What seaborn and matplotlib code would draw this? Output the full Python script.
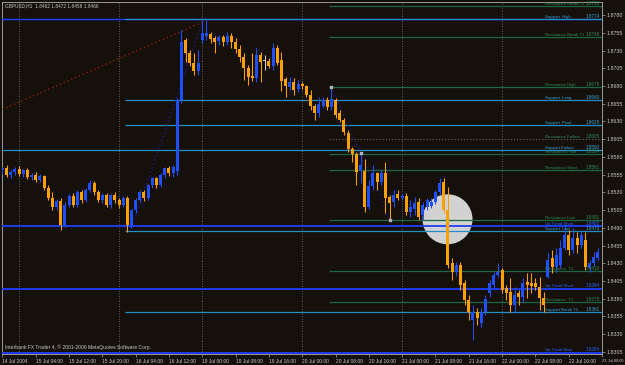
import matplotlib
matplotlib.use("Agg")
import matplotlib.pyplot as plt
import seaborn as sns
import pandas as pd
import numpy as np

# ---------------- data ----------------
tick_bars = [0, 8, 16, 24, 32, 40, 48, 56, 64, 72, 80, 88, 96, 104, 112, 120, 128, 136, 144]
tick_labels = ["14 Jul 2004", "15 Jul 04:00", "15 Jul 12:00", "15 Jul 20:00", "16 Jul 04:00",
               "16 Jul 12:00", "19 Jul 00:00", "19 Jul 08:00", "19 Jul 16:00", "20 Jul 00:00",
               "20 Jul 08:00", "20 Jul 16:00", "21 Jul 00:00", "21 Jul 08:00", "21 Jul 16:00",
               "22 Jul 00:00", "22 Jul 08:00", "22 Jul 16:00", "23 Jul 00:00"]
day_bars = [4, 28, 48, 72, 96, 120]
price_ticks = [1.8780, 1.8755, 1.8730, 1.8705, 1.8680, 1.8655, 1.8630, 1.8605, 1.8580, 1.8555,
               1.8530, 1.8505, 1.8480, 1.8455, 1.8430, 1.8405, 1.8380, 1.8355, 1.8330, 1.8305]

opens = [1.8561, 1.8564, 1.8554, 1.8559, 1.8563, 1.8556, 1.8561, 1.8552, 1.8555, 1.8547,
         1.8553, 1.8536, 1.8522, 1.8509, 1.8518, 1.8484, 1.8512, 1.8525, 1.8512, 1.8530,
         1.8519, 1.8533, 1.8543, 1.8530, 1.8519, 1.8526, 1.8512, 1.8526, 1.8519, 1.8512,
         1.8522, 1.8484, 1.8505, 1.8519, 1.8530, 1.8522, 1.8540, 1.8550, 1.8540, 1.8554,
         1.8564, 1.8557, 1.8560, 1.8660, 1.8745, 1.8726, 1.8712, 1.8701, 1.8745, 1.8750,
         1.8753, 1.8748, 1.8743, 1.8749, 1.8742, 1.8750, 1.8742, 1.8732, 1.8721, 1.8705,
         1.8694, 1.8691, 1.8724, 1.8715, 1.8715, 1.8708, 1.8733, 1.8717, 1.8690, 1.8678,
         1.8686, 1.8676, 1.8683, 1.8680, 1.8667, 1.8652, 1.8642, 1.8652, 1.8660, 1.8650,
         1.8660, 1.8642, 1.8632, 1.8614, 1.8591, 1.8584, 1.8561, 1.8560, 1.8509, 1.8539,
         1.8557, 1.8545, 1.8557, 1.8523, 1.8516, 1.8528, 1.8522, 1.8525, 1.8502, 1.8507,
         1.8516, 1.8498, 1.8509, 1.8511, 1.8516, 1.8530, 1.8545, 1.8505, 1.8430, 1.8418,
         1.8428, 1.8402, 1.8378, 1.8350, 1.8361, 1.8346, 1.8361, 1.8388, 1.8399, 1.8413,
         1.8420, 1.8395, 1.8389, 1.8371, 1.8388, 1.8382, 1.8404, 1.8402, 1.8402, 1.8397,
         1.8381, 1.8411, 1.8437, 1.8425, 1.8428, 1.8452, 1.8470, 1.8449, 1.8466, 1.8456,
         1.8463, 1.8423, 1.8430, 1.8437]
highs = [1.8566, 1.8569, 1.8562, 1.8566, 1.8567, 1.8563, 1.8564, 1.8558, 1.8559, 1.8556,
         1.8555, 1.8540, 1.8530, 1.8521, 1.8522, 1.8516, 1.8528, 1.8529, 1.8533, 1.8533,
         1.8536, 1.8547, 1.8546, 1.8533, 1.8529, 1.8529, 1.8528, 1.8530, 1.8522, 1.8525,
         1.8525, 1.8507, 1.8522, 1.8533, 1.8533, 1.8542, 1.8552, 1.8552, 1.8557, 1.8566,
         1.8567, 1.8569, 1.8663, 1.8759, 1.8748, 1.8731, 1.8726, 1.8731, 1.8773, 1.8773,
         1.8756, 1.8750, 1.8752, 1.8752, 1.8756, 1.8755, 1.8748, 1.8738, 1.8726, 1.8710,
         1.8726, 1.8733, 1.8728, 1.8724, 1.8719, 1.8740, 1.8738, 1.8728, 1.8693, 1.8693,
         1.8691, 1.8688, 1.8686, 1.8681, 1.8674, 1.8654, 1.8664, 1.8664, 1.8664, 1.8678,
         1.8663, 1.8646, 1.8635, 1.8618, 1.8594, 1.8587, 1.8585, 1.8577, 1.8547, 1.8569,
         1.8559, 1.8561, 1.8573, 1.8526, 1.8533, 1.8533, 1.8527, 1.8529, 1.8519, 1.8523,
         1.8522, 1.8516, 1.8522, 1.8522, 1.8533, 1.8550, 1.8550, 1.8538, 1.8437, 1.8432,
         1.8432, 1.8406, 1.8385, 1.8371, 1.8367, 1.8367, 1.8385, 1.8406, 1.8418, 1.8430,
         1.8423, 1.8399, 1.8409, 1.8397, 1.8392, 1.8409, 1.8416, 1.8416, 1.8409, 1.8411,
         1.8389, 1.8444, 1.8449, 1.8452, 1.8463, 1.8484, 1.8477, 1.8480, 1.8474, 1.8477,
         1.8474, 1.8435, 1.8446, 1.8452]
lows = [1.8556, 1.8552, 1.8550, 1.8555, 1.8553, 1.8552, 1.8549, 1.8547, 1.8545, 1.8544,
        1.8533, 1.8519, 1.8505, 1.8505, 1.8477, 1.8481, 1.8509, 1.8509, 1.8509, 1.8515,
        1.8516, 1.8530, 1.8526, 1.8516, 1.8515, 1.8509, 1.8508, 1.8515, 1.8508, 1.8509,
        1.8474, 1.8480, 1.8501, 1.8516, 1.8518, 1.8519, 1.8536, 1.8536, 1.8538, 1.8550,
        1.8553, 1.8552, 1.8554, 1.8656, 1.8714, 1.8708, 1.8695, 1.8695, 1.8740, 1.8745,
        1.8740, 1.8726, 1.8738, 1.8736, 1.8738, 1.8733, 1.8726, 1.8714, 1.8688, 1.8681,
        1.8687, 1.8686, 1.8686, 1.8702, 1.8705, 1.8702, 1.8710, 1.8673, 1.8664, 1.8674,
        1.8667, 1.8671, 1.8676, 1.8664, 1.8646, 1.8632, 1.8636, 1.8649, 1.8646, 1.8646,
        1.8635, 1.8629, 1.8611, 1.8587, 1.8573, 1.8540, 1.8543, 1.8502, 1.8507, 1.8533,
        1.8533, 1.8540, 1.8501, 1.8491, 1.8509, 1.8519, 1.8519, 1.8498, 1.8495, 1.8498,
        1.8491, 1.8491, 1.8505, 1.8508, 1.8514, 1.8526, 1.8501, 1.8423, 1.8406, 1.8412,
        1.8392, 1.8371, 1.8350, 1.8322, 1.8343, 1.8340, 1.8357, 1.8382, 1.8395, 1.8411,
        1.8388, 1.8378, 1.8361, 1.8361, 1.8371, 1.8374, 1.8381, 1.8388, 1.8392, 1.8364,
        1.8361, 1.8409, 1.8416, 1.8418, 1.8423, 1.8449, 1.8442, 1.8444, 1.8444, 1.8452,
        1.8420, 1.8418, 1.8426, 1.8435]
closes = [1.8564, 1.8554, 1.8559, 1.8563, 1.8556, 1.8561, 1.8552, 1.8555, 1.8547, 1.8553,
          1.8536, 1.8522, 1.8509, 1.8518, 1.8484, 1.8512, 1.8525, 1.8512, 1.8530, 1.8519,
          1.8533, 1.8543, 1.8530, 1.8519, 1.8526, 1.8512, 1.8526, 1.8519, 1.8512, 1.8522,
          1.8484, 1.8505, 1.8519, 1.8530, 1.8522, 1.8540, 1.8550, 1.8540, 1.8554, 1.8564,
          1.8557, 1.8566, 1.8660, 1.8742, 1.8726, 1.8712, 1.8701, 1.8712, 1.8755, 1.8755,
          1.8746, 1.8742, 1.8749, 1.8742, 1.8750, 1.8742, 1.8732, 1.8721, 1.8705, 1.8693,
          1.8691, 1.8724, 1.8714, 1.8715, 1.8708, 1.8733, 1.8712, 1.8687, 1.8680, 1.8686,
          1.8674, 1.8683, 1.8680, 1.8667, 1.8652, 1.8642, 1.8654, 1.8660, 1.8650, 1.8662,
          1.8639, 1.8632, 1.8615, 1.8591, 1.8584, 1.8559, 1.8569, 1.8509, 1.8539, 1.8557,
          1.8545, 1.8557, 1.8522, 1.8515, 1.8526, 1.8522, 1.8525, 1.8502, 1.8509, 1.8515,
          1.8495, 1.8512, 1.8519, 1.8516, 1.8530, 1.8543, 1.8505, 1.8428, 1.8418, 1.8428,
          1.8399, 1.8378, 1.8361, 1.8361, 1.8353, 1.8361, 1.8380, 1.8402, 1.8413, 1.8418,
          1.8392, 1.8388, 1.8371, 1.8385, 1.8382, 1.8402, 1.8399, 1.8398, 1.8397, 1.8381,
          1.8371, 1.8435, 1.8425, 1.8442, 1.8452, 1.8470, 1.8449, 1.8466, 1.8456, 1.8470,
          1.8425, 1.8430, 1.8439, 1.8446]

# horizontal levels drawn on the chart
level_names = ["Resistance Break T2", "Support  High", "Resistance Break T1", "Resistance High",
               "Support  Long", "Support  Pivot", "Resistance Failure", "Support Failure",
               "Resistance Pivot", "Resistance Short", "Resistance Low", "Up Trend Short",
               "Support  Low", "Resistance  T1", "Up Trend Short", "Resistance  T1",
               "Support Break T1", "Up Trend Slow"]
level_prices = [1.8793, 1.8774, 1.8749, 1.8678, 1.8660, 1.8625, 1.8605, 1.8590, 1.8584, 1.8561,
                1.8491, 1.8482, 1.8475, 1.8419, 1.8394, 1.8375, 1.8361, 1.8304]
level_kinds = ["res", "sup", "res", "res", "sup", "sup", "fail", "sup", "res", "res",
               "res", "trend", "sup", "res", "trend", "res", "sup", "trend"]
level_starts = [79, 30, 79, 79, 30, 30, 79, 0, 79, 79, 79, 0, 30, 79, 0, 79, 30, 0]

# dotted trend / zigzag lines: (bar, price) pairs
red_line_bars = [0, 48]
red_line_prices = [1.8647, 1.8770]
zig1_bars = [31, 48]
zig1_prices = [1.8480, 1.8770]
zig2_bars = [79, 86, 93]
zig2_prices = [1.8678, 1.8585, 1.8491]

header = "GBPUSD,H1  1.8462 1.8472 1.8458 1.8466"
copyright_txt = "Interbank FX Trader 4, \u00a9 2001-2006 MetaQuotes Software Corp."

# ---------------- style ----------------
BG = "#15110a"
BLUE = "#1f4fff"
ORANGE = "#ffa000"
DOJI = "#d0d0d0"
TXT = "#c8c8c8"
kind_color = {"res": "#1d6642", "sup": "#2a8cc4", "trend": "#1f3fff", "fail": "#5a5a5a"}
kind_text = {"res": "#2e8b57", "sup": "#3aa0d8", "trend": "#2f5fff", "fail": "#2e8b57"}

sns.set_theme(style="dark", rc={"axes.facecolor": BG, "figure.facecolor": BG})
plt.rcParams["font.family"] = ["Liberation Sans", "DejaVu Sans"]

fig = plt.figure(figsize=(6.25, 3.65), dpi=100, facecolor=BG)
ax = fig.add_axes([2 / 625, 11 / 365, 600 / 625, 352 / 365])
ax.set_facecolor(BG)

n = len(opens)
df = pd.DataFrame({"bar": np.arange(n), "o": opens, "h": highs, "l": lows, "c": closes})
cols = np.where(df.c > df.o, BLUE, np.where(df.c < df.o, ORANGE, DOJI))

# grid (day separators)
for b in day_bars:
    ax.axvline(b, color="#7c7c7c", lw=0.6, ls=(0, (1, 2)), zorder=1)

# highlight circle
ax.scatter([106.9], [1.8492], s=1296, color="#d2d2d2", edgecolor="none", zorder=2)

# levels
for name, p, kind, st in zip(level_names, level_prices, level_kinds, level_starts):
    ls = (0, (1, 1.5)) if kind == "fail" else "-"
    lw = 1.3 if kind == "trend" else 0.9
    ax.hlines(p, st - 0.5, 144, color=kind_color[kind], lw=lw, ls=ls, zorder=3)
    ax.text(130.3, p + 0.00004, name, fontsize=3.1, color=kind_text[kind],
            ha="left", va="bottom", zorder=7)
    ax.text(143.5, p + 0.00004, f"{p:.4f}", fontsize=3.3, color=kind_text[kind],
            ha="right", va="bottom", zorder=7)
ax.hlines(1.8774, -1, 144, color="#1f3fff", lw=1.0, zorder=2.9)

# dotted lines
lines_df = pd.concat([
    pd.DataFrame({"bar": red_line_bars, "price": red_line_prices, "id": "red"}),
    pd.DataFrame({"bar": zig1_bars, "price": zig1_prices, "id": "zig1"}),
    pd.DataFrame({"bar": zig2_bars, "price": zig2_prices, "id": "zig2"}),
])
for key, color in [("red", "#8a1c12"), ("zig1", "#1a1a8a"), ("zig2", "#1a1a8a")]:
    sub = lines_df[lines_df["id"] == key]
    sns.lineplot(data=sub, x="bar", y="price", ax=ax, color=color, lw=1.0,
                 ls=(0, (1, 2)), sort=False, estimator=None, zorder=3.5)
ax.scatter(zig2_bars, zig2_prices, marker="s", s=4, color="#b0b0c0", zorder=6)

# candles
ax.vlines(df.bar, df.l, df.h, colors=cols, lw=0.75, zorder=4)
body_lo = df[["o", "c"]].min(axis=1)
body_h = (df.c - df.o).abs().clip(lower=0.00012)
ax.bar(df.bar, body_h, bottom=body_lo, width=0.72, color=cols, linewidth=0, zorder=5)

# axes
ax.set_xlim(-0.1, 143.9)
ax.set_ylim(1.83020, 1.87985)
ax.yaxis.tick_right()
ax.set_yticks(price_ticks)
ax.set_yticklabels([f"{p:.4f}" for p in price_ticks], fontsize=3.8)
ax.set_xticks(tick_bars)
ax.set_xticklabels(tick_labels, ha="left", fontsize=3.5)
ax.get_xticklabels()[-1].set_fontsize(2.9)
ax.tick_params(axis="both", colors="#a0a0a0", labelcolor=TXT,
               length=2, width=0.5, pad=1.5, direction="out")
ax.tick_params(axis="y", right=True, left=False)
ax.tick_params(axis="x", bottom=True)
ax.set_xlabel("")
ax.set_ylabel("")
ax.grid(False)
for s in ax.spines.values():
    s.set_color("#9a9a9a")
    s.set_linewidth(0.7)

fig.text(5 / 625, 1 - 6 / 365, header, fontsize=3.4, color=TXT, ha="left", va="center")
ax.text(0.6, 1.8307, copyright_txt, fontsize=3.6, color=TXT, ha="left", va="bottom", zorder=7)

fig.savefig("out.png", dpi=100, facecolor=BG)
